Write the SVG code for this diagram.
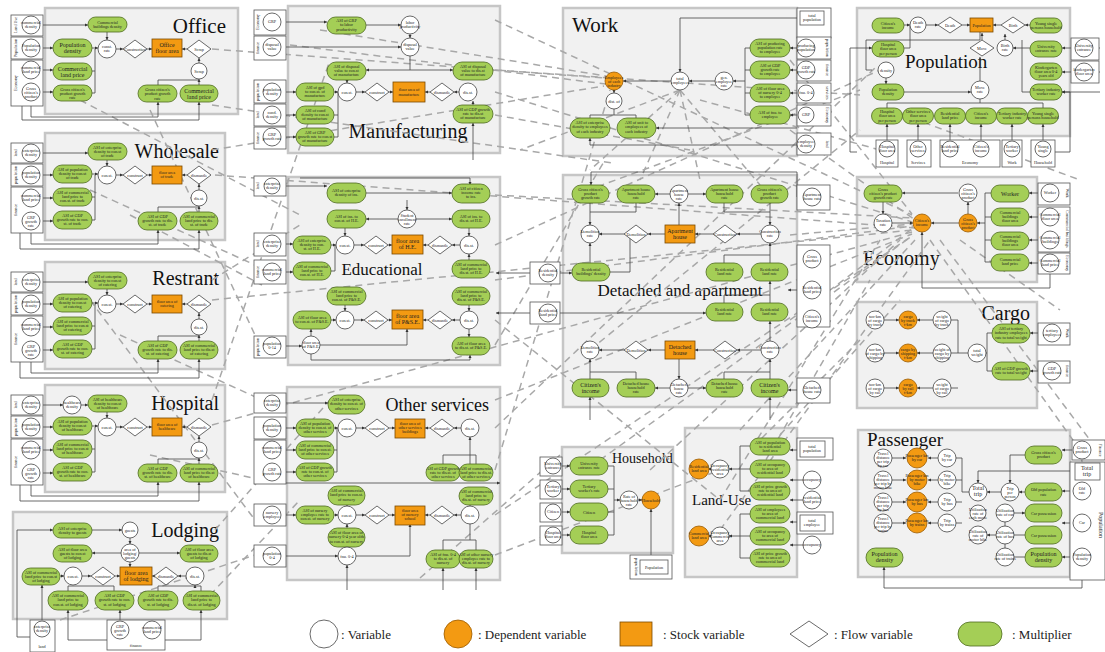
<svg xmlns="http://www.w3.org/2000/svg" width="1105" height="652" viewBox="0 0 1105 652">
<defs>
<marker id="a" viewBox="0 0 6 6" refX="6" refY="3" markerWidth="4" markerHeight="4" orient="auto"><path d="M0 0L6 3L0 6z" fill="#333"/></marker>
<style>
.pn{fill:#f1f1f1;stroke:#c6c6c6;stroke-width:2.5}
.v{fill:#fff;stroke:#444;stroke-width:0.8}
.d{fill:#f39a12;stroke:#9a5a00;stroke-width:0.8}
.s{fill:#f39a12;stroke:#7a4a00;stroke-width:0.8}
.f{fill:#fff;stroke:#444;stroke-width:0.8}
.m{fill:#a4ce56;stroke:#4e6b1f;stroke-width:0.8}
.x{fill:#fff;stroke:#555;stroke-width:0.8}
.t{font-family:"Liberation Serif",serif;font-size:4.2px;text-anchor:middle;fill:#222}
.t6{font-family:"Liberation Serif",serif;font-size:6px;text-anchor:middle;fill:#222}
.ttl{font-family:"Liberation Serif",serif;fill:#111}
.lg{font-family:"Liberation Serif",serif;font-size:13px;fill:#222}
.c{fill:none;stroke:#444;stroke-width:0.8;marker-end:url(#a)}
.l{fill:none;stroke:#444;stroke-width:0.8}
.dl{fill:none;stroke:#a8a8a8;stroke-width:1.5;stroke-dasharray:7 5}
</style>
</defs>
<rect width="1105" height="652" fill="#fff"/>

<!-- ========== PANELS ========== -->
<g id="panels">
<rect class="pn" x="45" y="8" width="193" height="106"/>
<rect class="pn" x="288" y="6" width="212" height="147"/>
<rect class="pn" x="563" y="8" width="234" height="148"/>
<rect class="pn" x="857" y="8" width="213" height="128"/>
<rect class="pn" x="45" y="133" width="180" height="107"/>
<rect class="pn" x="45" y="262" width="180" height="107"/>
<rect class="pn" x="288" y="177" width="212" height="188"/>
<rect class="pn" x="563" y="175" width="234" height="232"/>
<rect class="pn" x="857" y="177" width="180" height="105"/>
<rect class="pn" x="857" y="302" width="180" height="106"/>
<rect class="pn" x="45" y="385" width="180" height="107"/>
<rect class="pn" x="13" y="512" width="214" height="107"/>
<rect class="pn" x="287" y="387" width="213" height="193"/>
<rect class="pn" x="562" y="447" width="111" height="106"/>
<rect class="pn" x="685" y="428" width="112" height="149"/>
<rect class="pn" x="858" y="430" width="212" height="147"/>
<text class="ttl" x="226" y="33" font-size="21" text-anchor="end">Office</text>
<text class="ttl" x="408" y="138" font-size="20" text-anchor="middle">Manufacturing</text>
<text class="ttl" x="572" y="32" font-size="21">Work</text>
<text class="ttl" x="905" y="68" font-size="19">Population</text>
<text class="ttl" x="219" y="158" font-size="20" text-anchor="end">Wholesale</text>
<text class="ttl" x="219" y="285" font-size="20" text-anchor="end">Restrant</text>
<text class="ttl" x="382" y="275" font-size="17" text-anchor="middle">Educational</text>
<text class="ttl" x="680" y="296" font-size="17" text-anchor="middle">Detached and apartment</text>
<text class="ttl" x="863" y="265" font-size="20">Economy</text>
<text class="ttl" x="1030" y="320" font-size="20" text-anchor="end">Cargo</text>
<text class="ttl" x="219" y="410" font-size="20" text-anchor="end">Hospital</text>
<text class="ttl" x="219" y="537" font-size="20" text-anchor="end">Lodging</text>
<text class="ttl" x="489" y="411" font-size="18" text-anchor="end">Other services</text>
<text class="ttl" x="612" y="463" font-size="14">Household</text>
<text class="ttl" x="692" y="505" font-size="15">Land-Use</text>
<text class="ttl" x="867" y="446" font-size="19">Passenger</text>
</g>

<!-- ========== CONNECTORS ========== -->
<g id="connectors">
<path class="dl" d="M212 49L604 78"/>
<path class="dl" d="M80 100L300 215"/>
<path class="dl" d="M150 110L262 350"/>
<path class="dl" d="M290 45L606 84"/>
<path class="dl" d="M495 70L860 95"/>
<path class="dl" d="M495 92L912 222"/>
<path class="dl" d="M495 115L690 150"/>
<path class="dl" d="M495 20L912 215"/>
<path class="dl" d="M320 30L606 76"/>
<path class="dl" d="M212 150L604 86"/>
<path class="dl" d="M215 175L915 228"/>
<path class="dl" d="M130 215L262 285"/>
<path class="dl" d="M90 190L255 265"/>
<path class="dl" d="M212 280L300 225"/>
<path class="dl" d="M212 300L913 230"/>
<path class="dl" d="M120 335L262 400"/>
<path class="dl" d="M90 300L255 520"/>
<path class="dl" d="M212 400L330 60"/>
<path class="dl" d="M212 425L912 232"/>
<path class="dl" d="M150 455L262 480"/>
<path class="dl" d="M215 530L330 400"/>
<path class="dl" d="M60 620L270 550"/>
<path class="dl" d="M210 595L300 500"/>
<path class="dl" d="M495 195L913 218"/>
<path class="dl" d="M495 245L880 70"/>
<path class="dl" d="M495 280L913 226"/>
<path class="dl" d="M495 320L720 500"/>
<path class="dl" d="M495 345L605 160"/>
<path class="dl" d="M495 400L912 234"/>
<path class="dl" d="M495 428L875 68"/>
<path class="dl" d="M495 470L610 90"/>
<path class="dl" d="M495 515L912 236"/>
<path class="dl" d="M495 555L720 470"/>
<path class="dl" d="M420 578L560 455"/>
<path class="dl" d="M680 90L590 170"/>
<path class="dl" d="M680 90L640 180"/>
<path class="dl" d="M680 90L700 180"/>
<path class="dl" d="M680 90L760 185"/>
<path class="dl" d="M680 90L520 150"/>
<path class="dl" d="M700 100L880 150"/>
<path class="dl" d="M790 60L912 214"/>
<path class="dl" d="M790 130L915 220"/>
<path class="dl" d="M575 195L860 90"/>
<path class="dl" d="M790 235L912 224"/>
<path class="dl" d="M790 320L913 228"/>
<path class="dl" d="M590 350L860 130"/>
<path class="dl" d="M600 460L912 236"/>
<path class="dl" d="M650 470L900 240"/>
<path class="dl" d="M740 430L915 240"/>
<path class="dl" d="M720 500L880 240"/>
<path class="dl" d="M720 530L930 240"/>
<path class="dl" d="M760 470L870 280"/>
<path class="dl" d="M780 435L900 300"/>
<path class="dl" d="M860 340L760 440"/>
<path class="dl" d="M890 110L1080 180"/>
<path class="dl" d="M930 240L1080 450"/>
<path class="dl" d="M940 240L1090 440"/>
<path class="dl" d="M960 240L1060 310"/>
<path class="dl" d="M1080 455L1095 500"/>
<path class="dl" d="M212 105L612 163"/>

<!-- Office -->
<path class="c" d="M40 25H88"/><path class="c" d="M40 48H53"/><path class="c" d="M40 70H53"/><path class="c" d="M40 92H53"/>
<path class="c" d="M92 48H98"/><path class="l" d="M92 71H95V49M92 93H95V71"/><path class="c" d="M107 32V40"/>
<path class="c" d="M116 49H123"/><path class="c" d="M147 49H152"/><path class="c" d="M187 49H182"/><path class="c" d="M199 63V58"/>
<path class="c" d="M158 85V80H199V79"/><path class="l" d="M199 85V80"/>
<path class="c" d="M31 101V117H158V102"/><path class="c" d="M22 76V120H199V102"/>
<!-- Manufacturing -->
<path class="c" d="M286 22H327"/><path class="c" d="M366 25H401"/><path class="c" d="M286 47H401"/><path class="c" d="M410 34V38"/>
<path class="c" d="M410 56V70H366"/><path class="c" d="M410 70H453"/>
<path class="c" d="M334 92H338"/><path class="c" d="M356 92H365"/><path class="c" d="M389 92H393"/><path class="c" d="M430 92H425"/><path class="c" d="M459 92H454"/>
<path class="c" d="M347 80V83"/><path class="c" d="M473 105V101"/><path class="l" d="M334 115H338V92M334 137H338V115"/>
<path class="c" d="M286 92H296"/><path class="c" d="M286 115H296"/><path class="c" d="M286 137H296"/>
<path class="c" d="M473 160V123"/>
<!-- Work -->
<path class="c" d="M671 81H623"/><path class="c" d="M715 81H689"/><path class="c" d="M745 81H733"/>
<path class="l" d="M750 48H745V115H750M745 70H750M745 93H750"/>
<path class="c" d="M800 18H680V72"/><path class="c" d="M614 90V93"/>
<path class="l" d="M614 109V115H590V118M614 115H636V118"/>
<path class="c" d="M797 128H656"/><path class="c" d="M797 145H590V138"/>
<path class="c" d="M806 48H790"/><path class="c" d="M806 70H790"/><path class="c" d="M806 93H790"/><path class="c" d="M806 115H790"/>
<!-- Population -->
<path class="c" d="M904 25H910"/><path class="c" d="M926 25H938"/><path class="c" d="M962 25H970"/><path class="c" d="M1001 25H993"/>
<path class="c" d="M1030 25H1025"/><path class="c" d="M1005 40V34"/><path class="c" d="M1030 48H1013"/>
<path class="l" d="M904 48H910V26"/><path class="c" d="M982 40V33"/><path class="c" d="M980 81V57"/>
<path class="c" d="M904 92H971"/><path class="c" d="M886 78V84"/><path class="l" d="M872 70H866V40H980V18"/>
<path class="l" d="M1030 92H1022V40"/><path class="l" d="M887 108V103H1043V108M980 103V99"/>
<path class="c" d="M1100 48H1062"/><path class="c" d="M1100 72H1062"/><path class="c" d="M1100 92H1062"/>
<path class="c" d="M887 140V124"/><path class="c" d="M918 140V124"/><path class="c" d="M950 140V124"/><path class="c" d="M981 140V124"/><path class="c" d="M1012 140V124"/><path class="c" d="M1043 140V124"/>
<path class="c" d="M857 152H850V48H872"/><path class="c" d="M1055 152H1070V92H1062"/>
<!-- Wholesale/Restrant/Hospital -->
<g id="c-ind-w"><path class="c" d="M40 153H88"/><path class="c" d="M40 175H53"/><path class="c" d="M40 198H53"/><path class="c" d="M40 221H53"/>
<path class="c" d="M92 174H98"/><path class="l" d="M92 197H95V175M92 220H95V197"/><path class="c" d="M107 160V166"/>
<path class="c" d="M116 175H123"/><path class="c" d="M147 175H152"/><path class="c" d="M187 175H182"/><path class="c" d="M199 190V184"/>
<path class="c" d="M158 212V207H199V206"/><path class="l" d="M199 212V207"/>
<path class="c" d="M31 230V244H158V230"/><path class="c" d="M20 200V249H199V230"/></g>
<g transform="translate(0,129)"><path class="c" d="M40 153H88"/><path class="c" d="M40 175H53"/><path class="c" d="M40 198H53"/><path class="c" d="M40 221H53"/>
<path class="c" d="M92 174H98"/><path class="l" d="M92 197H95V175M92 220H95V197"/><path class="c" d="M107 160V166"/>
<path class="c" d="M116 175H123"/><path class="c" d="M147 175H152"/><path class="c" d="M187 175H182"/><path class="c" d="M199 190V184"/>
<path class="c" d="M158 212V207H199V206"/><path class="l" d="M199 212V207"/>
<path class="c" d="M31 230V244H158V230"/><path class="c" d="M20 200V249H199V230"/></g>
<g transform="translate(0,252)"><path class="c" d="M40 153H63"/><path class="c" d="M81 153H88"/><path class="c" d="M40 175H53"/><path class="c" d="M40 198H53"/><path class="c" d="M40 221H53"/>
<path class="c" d="M92 174H98"/><path class="l" d="M92 197H95V175M92 220H95V197"/><path class="c" d="M107 160V166"/>
<path class="c" d="M116 175H123"/><path class="c" d="M147 175H152"/><path class="c" d="M187 175H182"/><path class="c" d="M199 190V184"/>
<path class="c" d="M158 212V207H199V206"/><path class="l" d="M199 212V207"/>
<path class="c" d="M31 230V244H158V230"/><path class="c" d="M20 200V249H199V230"/></g>
<!-- Lodging -->
<path class="c" d="M92 530H122"/><path class="c" d="M130 538V544"/><path class="c" d="M121 553H92"/><path class="c" d="M139 553H180"/><path class="c" d="M130 562V567"/>
<path class="c" d="M60 576H64"/><path class="c" d="M82 576H91"/><path class="c" d="M115 576H120"/><path class="c" d="M166 576H152"/><path class="c" d="M186 576H178"/>
<path class="l" d="M68 591V586H80M114 591V586H80"/><path class="l" d="M158 591V586H201V591"/><path class="c" d="M195 586V585"/>
<path class="c" d="M33 637H17V530H53"/><path class="c" d="M42 620V585"/><path class="c" d="M114 640H68V610"/><path class="c" d="M160 640H201V610"/><path class="c" d="M120 621V610"/>
<!-- Educational -->
<path class="c" d="M286 186H327"/><path class="c" d="M366 193H452"/><path class="c" d="M407 200V210"/><path class="c" d="M398 219H366"/><path class="c" d="M416 219H452"/>
<path class="c" d="M300 178H470V185"/>
<path class="c" d="M345 228V236"/><path class="c" d="M469 228V236"/>
<path class="c" d="M331 245H336"/><path class="c" d="M354 245H364"/><path class="c" d="M388 245H392"/><path class="c" d="M428 245H423"/><path class="c" d="M460 245H452"/>
<path class="l" d="M331 271H335V245"/><path class="c" d="M469 260V254"/><path class="c" d="M286 244H293"/><path class="c" d="M286 272H293"/>
<path class="c" d="M345 305V311"/><path class="c" d="M469 305V311"/>
<path class="c" d="M331 320H336"/><path class="c" d="M354 320H364"/><path class="c" d="M388 320H392"/><path class="c" d="M428 320H423"/><path class="c" d="M460 320H452"/>
<path class="c" d="M469 329V337"/><path class="c" d="M311 336V329"/><path class="c" d="M320 345H407V329"/><path class="c" d="M286 346H302"/><path class="c" d="M311 354V360H470V355"/>
<path class="c" d="M560 273H496"/><path class="c" d="M560 313H496"/>
<!-- Other services -->
<path class="c" d="M286 403H328"/><path class="c" d="M286 428H296"/><path class="c" d="M286 450H296"/><path class="c" d="M286 472H296"/>
<path class="c" d="M334 428H338"/><path class="l" d="M334 450H337V428M334 472H337V450"/><path class="c" d="M356 428H365"/><path class="c" d="M389 428H395"/><path class="c" d="M430 428H425"/><path class="c" d="M461 428H454"/>
<path class="c" d="M470 464V437"/><path class="l" d="M443 464V455H476V464"/>
<path class="c" d="M286 483H500"/>
<path class="c" d="M286 515H296"/><path class="c" d="M334 515H338"/><path class="c" d="M356 515H365"/><path class="c" d="M389 515H395"/><path class="c" d="M430 515H425"/><path class="c" d="M461 515H454"/>
<path class="c" d="M347 505V506"/><path class="c" d="M470 505V524"/><path class="c" d="M347 528V524"/><path class="c" d="M286 556H338"/><path class="c" d="M356 556H410V524"/>
<path class="c" d="M347 590V565"/><path class="c" d="M443 590V568"/><path class="c" d="M476 590V568"/><path class="l" d="M443 550V540H476V550M470 540V524"/>
<!-- Detached -->
<path class="c" d="M590 203V225"/><path class="l" d="M636 203V212H590"/><path class="c" d="M679 225V203"/><path class="c" d="M670 194H655"/><path class="c" d="M688 194H706"/>
<path class="c" d="M770 203V225"/><path class="l" d="M724 203V212H770"/>
<path class="c" d="M624 234H599"/><path class="c" d="M665 234H648"/><path class="c" d="M713 234H695"/><path class="c" d="M761 234H737"/>
<path class="c" d="M590 263V243"/><path class="c" d="M770 263V243"/><path class="c" d="M770 303V281"/><path class="l" d="M724 263V255H770M724 303V295H770"/>
<path class="c" d="M610 272H630V230"/>
<path class="c" d="M560 273H572"/><path class="c" d="M560 313H706"/>
<path class="c" d="M770 341V321"/>
<path class="c" d="M624 350H599"/><path class="c" d="M665 350H648"/><path class="c" d="M713 350H695"/><path class="c" d="M761 350H737"/>
<path class="c" d="M590 379V359"/><path class="c" d="M770 379V359"/><path class="l" d="M636 379V372H590M724 379V372H770"/><path class="c" d="M679 359V379"/>
<path class="c" d="M670 388H655"/><path class="c" d="M688 388H706"/>
<path class="c" d="M806 197H797V172H591V185"/><path class="c" d="M806 290H788"/><path class="c" d="M806 390H788"/>
<path class="c" d="M590 420V397"/><path class="c" d="M770 420V397"/>
<!-- Economy -->
<path class="c" d="M958 193H902"/><path class="c" d="M883 202V214"/><path class="c" d="M892 223H913"/><path class="c" d="M959 223H931"/><path class="c" d="M968 214V202"/>
<path class="l" d="M991 193H985V262H991M985 217H991M985 240H991"/><path class="c" d="M985 223H977"/>
<path class="c" d="M1041 193H1029"/><path class="c" d="M1041 217H1029"/><path class="c" d="M1041 240H1029"/><path class="c" d="M1041 263H1029"/>
<path class="c" d="M1050 272V288H922V232"/>
<!-- Cargo -->
<path class="c" d="M884 320H899"/><path class="c" d="M935 320H917"/><path class="c" d="M884 353H899"/><path class="c" d="M935 353H917"/><path class="c" d="M884 388H899"/><path class="c" d="M935 388H917"/>
<path class="l" d="M968 353H958V320H951M958 388H951M958 353H951"/>
<path class="l" d="M992 333H987V371H992M987 353H986"/>
<path class="c" d="M1042 333H1030"/><path class="c" d="M1042 371H1030"/>
<!-- Passenger -->
<path class="c" d="M891 458H906"/><path class="c" d="M938 458H928"/><path class="c" d="M891 480H906"/><path class="c" d="M938 480H928"/><path class="c" d="M891 502H906"/><path class="c" d="M938 502H928"/><path class="c" d="M891 523H906"/><path class="c" d="M938 523H928"/>
<path class="l" d="M969 492H962V458H956M962 480H956M962 502H956M962 523H956"/><path class="c" d="M1001 492H987"/>
<path class="c" d="M1025 492H1019"/><path class="c" d="M1025 455H1010V483"/><path class="c" d="M1082 471H978V483"/>
<path class="c" d="M996 513H1025"/><path class="l" d="M1005 521V557H1025M1005 535H1025"/><path class="c" d="M996 535H987"/>
<path class="c" d="M1075 450H1062"/><path class="c" d="M1073 491H1062"/><path class="c" d="M1073 523H1062"/><path class="c" d="M1073 557H1062"/>
<path class="c" d="M1082 565V588H884V567"/>
<!-- Household -->
<path class="c" d="M562 466H570"/><path class="c" d="M562 489H570"/><path class="c" d="M562 512H570"/><path class="c" d="M562 535H570"/>
<path class="l" d="M608 466H614V535H608M608 489H614M608 512H614"/><path class="c" d="M614 500H620"/><path class="c" d="M638 500H642"/>
<path class="c" d="M651 565V509"/>
<!-- Land-use -->
<path class="c" d="M711 469H708"/><path class="c" d="M711 536H708"/>
<path class="l" d="M750 446H740V491H750M740 469H750"/><path class="c" d="M740 469H729"/>
<path class="l" d="M750 514H740V558H750M740 536H750"/><path class="c" d="M740 536H729"/>
<path class="c" d="M800 450H790"/><path class="c" d="M803 480H790"/><path class="c" d="M803 500H790"/><path class="c" d="M800 522H790"/><path class="c" d="M803 545H790"/>
</g>

<!-- ========== EXTERNAL BOXES ========== -->
<g id="externals">
<rect class="x" x="11" y="15" width="32" height="21"/><rect class="x" x="11" y="37" width="32" height="22"/><rect class="x" x="11" y="60" width="32" height="46"/>
<text class="t" transform="translate(17,25) rotate(-90)">Land Use</text><text class="t" transform="translate(17,48) rotate(-90)">Population</text><text class="t" transform="translate(17,83) rotate(-90)">Economy</text>
<circle class="v" cx="31" cy="25" r="9"/><text class="t" x="31" y="24">commercial<tspan x="31" dy="4">density</tspan></text>
<circle class="v" cx="31" cy="48" r="9"/><text class="t" x="31" y="47">Population<tspan x="31" dy="4">density</tspan></text>
<circle class="v" cx="31" cy="70" r="9"/><text class="t" x="31" y="69">commercial<tspan x="31" dy="4">land price</tspan></text>
<circle class="v" cx="31" cy="92" r="9"/><text class="t" x="31" y="90">Gross<tspan x="31" dy="4">citizen's</tspan><tspan x="31" dy="4">product</tspan></text>

<g id="ext-w"><rect class="x" x="11" y="143" width="32" height="20"/><rect class="x" x="11" y="164" width="32" height="22"/><rect class="x" x="11" y="187" width="32" height="46"/>
<text class="t" transform="translate(17,153) rotate(-90)">land</text><text class="t" transform="translate(17,175) rotate(-90)">population</text><text class="t" transform="translate(17,210) rotate(-90)">finance</text>
<circle class="v" cx="31" cy="153" r="9"/><text class="t" x="31" y="152">enterprise<tspan x="31" dy="4">density</tspan></text>
<circle class="v" cx="31" cy="175" r="9"/><text class="t" x="31" y="174">population<tspan x="31" dy="4">density</tspan></text>
<circle class="v" cx="31" cy="198" r="9"/><text class="t" x="31" y="197">commercial<tspan x="31" dy="4">land price</tspan></text>
<circle class="v" cx="31" cy="221" r="9"/><text class="t" x="31" y="219">GRP<tspan x="31" dy="4">growth</tspan><tspan x="31" dy="4">rate</tspan></text></g>
<g transform="translate(0,129)"><rect class="x" x="11" y="143" width="32" height="20"/><rect class="x" x="11" y="164" width="32" height="22"/><rect class="x" x="11" y="187" width="32" height="46"/>
<text class="t" transform="translate(17,153) rotate(-90)">land</text><text class="t" transform="translate(17,175) rotate(-90)">population</text><text class="t" transform="translate(17,210) rotate(-90)">finance</text>
<circle class="v" cx="31" cy="153" r="9"/><text class="t" x="31" y="152">enterprise<tspan x="31" dy="4">density</tspan></text>
<circle class="v" cx="31" cy="175" r="9"/><text class="t" x="31" y="174">population<tspan x="31" dy="4">density</tspan></text>
<circle class="v" cx="31" cy="198" r="9"/><text class="t" x="31" y="197">commercial<tspan x="31" dy="4">land price</tspan></text>
<circle class="v" cx="31" cy="221" r="9"/><text class="t" x="31" y="219">GRP<tspan x="31" dy="4">growth</tspan><tspan x="31" dy="4">rate</tspan></text></g>
<g transform="translate(0,252)"><rect class="x" x="11" y="143" width="32" height="20"/><rect class="x" x="11" y="164" width="32" height="22"/><rect class="x" x="11" y="187" width="32" height="46"/>
<text class="t" transform="translate(17,153) rotate(-90)">land</text><text class="t" transform="translate(17,175) rotate(-90)">population</text><text class="t" transform="translate(17,210) rotate(-90)">finance</text>
<circle class="v" cx="31" cy="153" r="9"/><text class="t" x="31" y="152">enterprise<tspan x="31" dy="4">density</tspan></text>
<circle class="v" cx="31" cy="175" r="9"/><text class="t" x="31" y="174">population<tspan x="31" dy="4">density</tspan></text>
<circle class="v" cx="31" cy="198" r="9"/><text class="t" x="31" y="197">commercial<tspan x="31" dy="4">land price</tspan></text>
<circle class="v" cx="31" cy="221" r="9"/><text class="t" x="31" y="219">GRP<tspan x="31" dy="4">growth</tspan><tspan x="31" dy="4">rate</tspan></text></g>

<rect class="x" x="30" y="620" width="25" height="32"/><text class="t" x="42" y="648">land</text>
<circle class="v" cx="42" cy="629" r="8"/><text class="t" x="42" y="628">enterprise<tspan x="42" dy="4">density</tspan></text>
<rect class="x" x="107" y="620" width="58" height="30"/><text class="t" x="136" y="647">finance</text>
<circle class="v" cx="120" cy="630" r="9"/><text class="t" x="120" y="628">GRP<tspan x="120" dy="4">growth</tspan><tspan x="120" dy="4">rate</tspan></text>
<circle class="v" cx="152" cy="630" r="9"/><text class="t" x="152" y="629">commercial<tspan x="152" dy="4">land price</tspan></text>

<rect class="x" x="254" y="10" width="32" height="25"/><rect class="x" x="254" y="36" width="32" height="24"/>
<rect class="x" x="254" y="80" width="32" height="23"/><rect class="x" x="254" y="104" width="32" height="22"/><rect class="x" x="254" y="127" width="32" height="22"/>
<circle class="v" cx="272" cy="22" r="9"/><text class="t" x="272" y="23">GRP</text>
<circle class="v" cx="272" cy="47" r="9"/><text class="t" x="272" y="46">disposal<tspan x="272" dy="4">value</tspan></text>
<circle class="v" cx="272" cy="92" r="9"/><text class="t" x="272" y="91">population<tspan x="272" dy="4">density</tspan></text>
<circle class="v" cx="272" cy="115" r="9"/><text class="t" x="272" y="114">cond.<tspan x="272" dy="4">density</tspan></text>
<circle class="v" cx="272" cy="137" r="9"/><text class="t" x="272" y="136">GRP<tspan x="272" dy="4">growth rate</tspan></text>
<text class="t" transform="translate(259,22) rotate(-90)">Economy</text><text class="t" transform="translate(259,48) rotate(-90)">finance</text>
<text class="t" transform="translate(259,92) rotate(-90)">population</text><text class="t" transform="translate(259,115) rotate(-90)">land</text><text class="t" transform="translate(259,138) rotate(-90)">finance</text>

<rect class="x" x="254" y="176" width="32" height="20"/><circle class="v" cx="272" cy="186" r="8"/><text class="t" x="272" y="185">enterprise<tspan x="272" dy="4">density</tspan></text>
<rect class="x" x="254" y="233" width="32" height="23"/><circle class="v" cx="272" cy="244" r="9"/><text class="t" x="272" y="243">enterprise<tspan x="272" dy="4">density</tspan></text>
<rect class="x" x="254" y="260" width="32" height="24"/><circle class="v" cx="272" cy="272" r="9"/><text class="t" x="272" y="271">commercial<tspan x="272" dy="4">land price</tspan></text>
<rect class="x" x="254" y="336" width="32" height="22"/><circle class="v" cx="272" cy="346" r="9"/><text class="t" x="272" y="345">population<tspan x="272" dy="4">0-14</tspan></text>
<text class="t" transform="translate(259,186) rotate(-90)">land</text><text class="t" transform="translate(259,244) rotate(-90)">land</text><text class="t" transform="translate(259,272) rotate(-90)">finance</text><text class="t" transform="translate(259,347) rotate(-90)">population</text>

<rect class="x" x="254" y="393" width="32" height="20"/><circle class="v" cx="272" cy="403" r="8"/><text class="t" x="272" y="402">enterprise<tspan x="272" dy="4">density</tspan></text>
<rect class="x" x="254" y="417" width="32" height="22"/><circle class="v" cx="272" cy="428" r="9"/><text class="t" x="272" y="427">population<tspan x="272" dy="4">density</tspan></text>
<rect class="x" x="254" y="440" width="32" height="44"/><circle class="v" cx="272" cy="450" r="9"/><text class="t" x="272" y="449">commercial<tspan x="272" dy="4">land price</tspan></text>
<circle class="v" cx="272" cy="472" r="9"/><text class="t" x="272" y="471">GRP<tspan x="272" dy="4">growth rate</tspan></text>
<rect class="x" x="254" y="504" width="32" height="22"/><circle class="v" cx="272" cy="515" r="9"/><text class="t" x="272" y="514">nursery<tspan x="272" dy="4">employee</tspan></text>
<rect class="x" x="254" y="545" width="32" height="22"/><circle class="v" cx="272" cy="556" r="9"/><text class="t" x="272" y="555">population<tspan x="272" dy="4">0-4</tspan></text>

<rect class="x" x="797" y="8" width="34" height="30"/><rect class="x" x="800" y="11" width="24" height="14"/><text class="t" x="812" y="17">total<tspan x="812" dy="4">population</tspan></text>
<rect class="x" x="797" y="37" width="34" height="22"/><circle class="v" cx="806" cy="48" r="9"/><text class="t" x="806" y="47">producing<tspan x="806" dy="4">population</tspan></text>
<rect class="x" x="797" y="60" width="34" height="21"/><circle class="v" cx="806" cy="70" r="9"/><text class="t" x="806" y="69">GDP<tspan x="806" dy="4">growth rate</tspan></text>
<rect class="x" x="797" y="83" width="34" height="20"/><circle class="v" cx="806" cy="93" r="8"/><text class="t" x="806" y="94">fnu. 0-4</text>
<rect class="x" x="797" y="105" width="34" height="21"/><circle class="v" cx="806" cy="115" r="8"/><text class="t" x="806" y="116">GRP</text>
<rect class="x" x="797" y="133" width="34" height="22"/><circle class="v" cx="806" cy="144" r="9"/><text class="t" x="806" y="143">employee<tspan x="806" dy="4">density</tspan></text>
<text class="t" transform="translate(826,48) rotate(90)">population</text><text class="t" transform="translate(826,70) rotate(90)">finance</text><text class="t" transform="translate(826,93) rotate(90)">services</text><text class="t" transform="translate(826,115) rotate(90)">Economy</text><text class="t" transform="translate(826,144) rotate(90)">land</text>

<rect class="x" x="1071" y="38" width="28" height="22"/><circle class="v" cx="1084" cy="48" r="9"/><text class="t" x="1084" y="47">University<tspan x="1084" dy="4">entrance</tspan></text>
<rect class="x" x="1071" y="61" width="28" height="22"/><circle class="v" cx="1084" cy="72" r="9"/><text class="t" x="1084" y="71">kindergarten<tspan x="1084" dy="4">floor area</tspan></text>
<rect class="x" x="876" y="140" width="22" height="27"/><circle class="v" cx="887" cy="149" r="8"/><text class="t" x="887" y="148">Hospital<tspan x="887" dy="4">floor area</tspan></text><text class="t" x="887" y="164">Hospital</text>
<rect class="x" x="907" y="140" width="24" height="27"/><circle class="v" cx="918" cy="149" r="8"/><text class="t" x="918" y="148">Other<tspan x="918" dy="4">services</tspan></text><text class="t" x="918" y="164">Services</text>
<rect class="x" x="940" y="140" width="60" height="27"/><circle class="v" cx="950" cy="149" r="8"/><text class="t" x="950" y="148">Residential<tspan x="950" dy="4">land price</tspan></text>
<circle class="v" cx="981" cy="149" r="8"/><text class="t" x="981" y="148">Citizen's<tspan x="981" dy="4">income</tspan></text><text class="t" x="970" y="164">Economy</text>
<rect class="x" x="1002" y="140" width="20" height="27"/><circle class="v" cx="1012" cy="149" r="8"/><text class="t" x="1012" y="148">Tertiary<tspan x="1012" dy="4">worker</tspan></text><text class="t" x="1012" y="164">Work</text>
<rect class="x" x="1031" y="140" width="24" height="27"/><circle class="v" cx="1043" cy="149" r="8"/><text class="t" x="1043" y="148">Young<tspan x="1043" dy="4">single</tspan></text><text class="t" x="1043" y="164">Household</text>

<rect class="x" x="797" y="185" width="33" height="25"/><circle class="v" cx="812" cy="197" r="9"/><text class="t" x="812" y="196">Apartment<tspan x="812" dy="4">house rate</tspan></text>
<rect class="x" x="797" y="245" width="33" height="82"/><circle class="v" cx="812" cy="259" r="9"/><text class="t" x="812" y="258">Gross<tspan x="812" dy="4">product</tspan></text>
<circle class="v" cx="812" cy="290" r="9"/><text class="t" x="812" y="289">Residential<tspan x="812" dy="4">land price</tspan></text>
<circle class="v" cx="812" cy="319" r="9"/><text class="t" x="812" y="318">Citizen's<tspan x="812" dy="4">income</tspan></text>
<rect class="x" x="797" y="378" width="33" height="25"/><circle class="v" cx="812" cy="390" r="9"/><text class="t" x="812" y="389">Detached<tspan x="812" dy="4">house rate</tspan></text>
<rect class="x" x="530" y="262" width="30" height="22"/><circle class="v" cx="548" cy="273" r="9"/><text class="t" x="548" y="272">Residential<tspan x="548" dy="4">density</tspan></text>
<rect class="x" x="530" y="302" width="30" height="22"/><circle class="v" cx="548" cy="313" r="9"/><text class="t" x="548" y="312">Residential<tspan x="548" dy="4">land price</tspan></text>

<rect class="x" x="1038" y="183" width="32" height="22"/><circle class="v" cx="1050" cy="193" r="9"/><text class="t" x="1050" y="194">Worker</text>
<rect class="x" x="1038" y="207" width="32" height="45"/><circle class="v" cx="1050" cy="217" r="9"/><text class="t" x="1050" y="216">Commercial<tspan x="1050" dy="4">floor area</tspan></text>
<circle class="v" cx="1050" cy="240" r="9"/><text class="t" x="1050" y="239">Commercial<tspan x="1050" dy="4">buildings</tspan></text>
<rect class="x" x="1038" y="253" width="32" height="21"/><circle class="v" cx="1050" cy="263" r="9"/><text class="t" x="1050" y="262">Commercial<tspan x="1050" dy="4">land price</tspan></text>
<text class="t" transform="translate(1066,193) rotate(90)">Work</text><text class="t" transform="translate(1066,229) rotate(90)">Commercial buildings</text><text class="t" transform="translate(1066,263) rotate(90)">Economy</text>
<rect class="x" x="1038" y="323" width="32" height="22"/><circle class="v" cx="1052" cy="333" r="9"/><text class="t" x="1052" y="332">tertiary<tspan x="1052" dy="4">employees</tspan></text>
<rect class="x" x="1038" y="361" width="32" height="22"/><circle class="v" cx="1052" cy="371" r="9"/><text class="t" x="1052" y="370">GDP<tspan x="1052" dy="4">growth rate</tspan></text>
<text class="t" transform="translate(1066,333) rotate(90)">Work</text><text class="t" transform="translate(1066,371) rotate(90)">finance</text>

<rect class="x" x="1072" y="440" width="33" height="20"/><circle class="v" cx="1082" cy="450" r="9"/><text class="t" x="1082" y="449">Gross<tspan x="1082" dy="4">product</tspan></text><text class="t" transform="translate(1099,450) rotate(90)">Finance</text>
<rect class="x" x="1070" y="462" width="35" height="118"/><rect class="x" x="1075" y="463" width="25" height="17"/><text class="t6" x="1087" y="470">Total<tspan x="1087" dy="6">trip</tspan></text>
<circle class="v" cx="1082" cy="491" r="9"/><text class="t" x="1082" y="490">Old<tspan x="1082" dy="4">rate</tspan></text>
<circle class="v" cx="1082" cy="523" r="9"/><text class="t" x="1082" y="524">Car</text>
<circle class="v" cx="1082" cy="557" r="9"/><text class="t" x="1082" y="556">Population<tspan x="1082" dy="4">density</tspan></text>
<text class="t6" transform="translate(1099,525) rotate(90)">Population</text>

<rect class="x" x="540" y="457" width="22" height="19"/><circle class="v" cx="553" cy="466" r="8"/><text class="t" x="553" y="465">University<tspan x="553" dy="4">entrance</tspan></text>
<rect class="x" x="540" y="480" width="22" height="19"/><circle class="v" cx="553" cy="489" r="8"/><text class="t" x="553" y="488">Tertiary<tspan x="553" dy="4">worker</tspan></text>
<rect class="x" x="540" y="503" width="22" height="19"/><circle class="v" cx="553" cy="512" r="8"/><text class="t" x="553" y="513">Citizen</text>
<rect class="x" x="540" y="526" width="22" height="19"/><circle class="v" cx="553" cy="535" r="8"/><text class="t" x="553" y="534">Hospital<tspan x="553" dy="4">floor area</tspan></text>
<rect class="x" x="630" y="555" width="42" height="24"/><rect class="x" x="640" y="560" width="28" height="14"/><text class="t" x="654" y="569">Population</text><text class="t" transform="translate(635,567) rotate(90)">population</text>

<rect class="x" x="797" y="438" width="36" height="22"/><rect class="x" x="800" y="441" width="25" height="16"/><text class="t" x="812" y="448">total<tspan x="812" dy="4">population</tspan></text>
<circle class="v" cx="812" cy="480" r="9"/><text class="t" x="812" y="481">occupancy</text>
<circle class="v" cx="812" cy="500" r="9"/><text class="t" x="812" y="499">residential<tspan x="812" dy="4">land price</tspan></text>
<rect class="x" x="797" y="512" width="36" height="22"/><rect class="x" x="800" y="515" width="25" height="16"/><text class="t" x="812" y="522">total<tspan x="812" dy="4">employee</tspan></text>
<circle class="v" cx="812" cy="545" r="9"/><text class="t" x="812" y="546">occupancy</text>
</g>

<!-- ========== NODES ========== -->
<g id="of-cbd"><rect class="m" x="88" y="17" width="39" height="15" rx="7.5"/><text class="t" x="107.5" y="23.5">Commercial<tspan x="107.5" dy="4.3">buildings density</tspan></text></g>
<g id="of-pd"><rect class="m" x="53" y="39" width="39" height="18" rx="9"/><text class="t6" x="72.5" y="47">Population<tspan x="72.5" dy="6">density</tspan></text></g>
<g id="of-clp"><rect class="m" x="53" y="63" width="39" height="17" rx="8.5"/><text class="t6" x="72.5" y="70.5">Commercial<tspan x="72.5" dy="6">land price</tspan></text></g>
<g id="of-gcp"><rect class="m" x="53" y="85" width="39" height="16" rx="8"/><text class="t" x="72.5" y="90.5">Gross citizen's<tspan x="72.5" dy="4.3">product growth</tspan><tspan x="72.5" dy="4.3">rate</tspan></text></g>
<g id="of-cr"><circle class="v" cx="107" cy="49" r="9"/><text class="t" x="107" y="48">const.<tspan x="107" dy="4">rate</tspan></text></g>
<g id="of-con"><polygon class="f" points="123,49 135,40 147,49 135,58"/><text class="t" x="135" y="50.5">Construction</text></g>
<g id="of-ofa"><rect class="s" x="152" y="39" width="30" height="18"/><text class="t6" x="167" y="47">Office<tspan x="167" dy="6">floor area</tspan></text></g>
<g id="of-scd"><polygon class="f" points="187,49 199,40 211,49 199,58"/><text class="t" x="199" y="50.5">Scrap</text></g>
<g id="of-scr"><circle class="v" cx="199" cy="71" r="8"/><text class="t" x="199" y="72.5">Scrap</text></g>
<g id="of-gcp2"><rect class="m" x="138" y="85" width="39" height="17" rx="8.5"/><text class="t" x="157.5" y="91">Gross citizen's<tspan x="157.5" dy="4.3">product growth</tspan><tspan x="157.5" dy="4.3">rate</tspan></text></g>
<g id="of-clp2"><rect class="m" x="180" y="85" width="38" height="17" rx="8.5"/><text class="t6" x="199" y="92.5">Commercial<tspan x="199" dy="6">land price</tspan></text></g>

<g id="mf-1"><rect class="m" x="327" y="17" width="39" height="17" rx="8.5"/><text class="t" x="346.5" y="22">ASI of GRP<tspan x="346.5" dy="4.3">to labor</tspan><tspan x="346.5" dy="4.3">productivity</tspan></text></g>
<g id="mf-lp"><circle class="v" cx="410" cy="25" r="9"/><text class="t" x="410" y="24">labor<tspan x="410" dy="4">productivity</tspan></text></g>
<g id="mf-dv"><circle class="v" cx="410" cy="47" r="9"/><text class="t" x="410" y="46">disposal<tspan x="410" dy="4">value</tspan></text></g>
<g id="mf-2"><rect class="m" x="327" y="62" width="39" height="18" rx="9"/><text class="t" x="346.5" y="67.5">ASI of disposal<tspan x="346.5" dy="4.3">value to con.st</tspan><tspan x="346.5" dy="4.3">of manufacture</tspan></text></g>
<g id="mf-3"><rect class="m" x="453" y="62" width="40" height="18" rx="9"/><text class="t" x="473" y="67.5">ASI of disposal<tspan x="473" dy="4.3">value to dis.st</tspan><tspan x="473" dy="4.3">of manufacture</tspan></text></g>
<g id="mf-cs"><circle class="v" cx="347" cy="92" r="9"/><text class="t" x="347" y="93.5">con.st.</text></g>
<g id="mf-cd"><polygon class="f" points="365,92 377,83 389,92 377,101"/><text class="t" x="377" y="93.5">construct</text></g>
<g id="mf-s"><rect class="s" x="393" y="82" width="32" height="20"/><text class="t" x="409" y="91">floor area of<tspan x="409" dy="4.5">manufacture</tspan></text></g>
<g id="mf-dd"><polygon class="f" points="430,92 442,83 454,92 442,101"/><text class="t" x="442" y="93.5">dismantle</text></g>
<g id="mf-ds"><circle class="v" cx="468" cy="92" r="9"/><text class="t" x="468" y="93.5">dis.st.</text></g>
<g id="mf-4"><rect class="m" x="453" y="105" width="40" height="18" rx="9"/><text class="t" x="473" y="110.5">ASI of GDP growth<tspan x="473" dy="4.3">rate to dis.st</tspan><tspan x="473" dy="4.3">of manufacture</tspan></text></g>
<g id="mf-5"><rect class="m" x="296" y="83" width="38" height="18" rx="9"/><text class="t" x="315" y="88.5">ASI of gpd<tspan x="315" dy="4.3">to con.st. of</tspan><tspan x="315" dy="4.3">manufacture</tspan></text></g>
<g id="mf-6"><rect class="m" x="296" y="106" width="38" height="18" rx="9"/><text class="t" x="315" y="111.5">ASI of cond<tspan x="315" dy="4.3">density to con.st</tspan><tspan x="315" dy="4.3">of manufacture</tspan></text></g>
<g id="mf-7"><rect class="m" x="296" y="128" width="38" height="18" rx="9"/><text class="t" x="315" y="133.5">ASI of GRP<tspan x="315" dy="4.3">growth rate to con.st</tspan><tspan x="315" dy="4.3">of manufacture</tspan></text></g>

<g id="wk-emp"><circle class="d" cx="614" cy="81" r="9"/><text class="t" x="614" y="79">Employees<tspan x="614" dy="4">of each</tspan><tspan x="614" dy="4">industry</tspan></text></g>
<g id="wk-dist"><circle class="v" cx="614" cy="101" r="8"/><text class="t" x="614" y="102.5">dist. of</text></g>
<g id="wk-tot"><circle class="v" cx="680" cy="81" r="9"/><text class="t" x="680" y="80">total<tspan x="680" dy="4">employees</tspan></text></g>
<g id="wk-gen"><circle class="v" cx="724" cy="81" r="9"/><text class="t" x="724" y="79">gen.<tspan x="724" dy="4">employee</tspan><tspan x="724" dy="4">rate</tspan></text></g>
<g id="wk-1"><rect class="m" x="750" y="39" width="40" height="18" rx="9"/><text class="t" x="770" y="44.5">ASI of producing<tspan x="770" dy="4.3">population rate</tspan><tspan x="770" dy="4.3">to employee</tspan></text></g>
<g id="wk-2"><rect class="m" x="750" y="61" width="40" height="18" rx="9"/><text class="t" x="770" y="66.5">ASI of GDP<tspan x="770" dy="4.3">growth rate</tspan><tspan x="770" dy="4.3">to employee</tspan></text></g>
<g id="wk-3"><rect class="m" x="750" y="84" width="40" height="18" rx="9"/><text class="t" x="770" y="89.5">ASI of floor area<tspan x="770" dy="4.3">of nursery 0-4</tspan><tspan x="770" dy="4.3">to employee</tspan></text></g>
<g id="wk-4"><rect class="m" x="750" y="106" width="40" height="18" rx="9"/><text class="t" x="770" y="113.5">ASI of fnu. to<tspan x="770" dy="4.3">employee</tspan></text></g>
<g id="wk-5"><rect class="m" x="570" y="118" width="40" height="20" rx="10"/><text class="t" x="590" y="124">ASI of enterprise<tspan x="590" dy="4.3">density to employees</tspan><tspan x="590" dy="4.3">of each industry</tspan></text></g>
<g id="wk-6"><rect class="m" x="617" y="118" width="39" height="20" rx="10"/><text class="t" x="636.5" y="124">ASI of unit to<tspan x="636.5" dy="4.3">employees of</tspan><tspan x="636.5" dy="4.3">each industry</tspan></text></g>

<g id="po-ci"><rect class="m" x="872" y="18" width="32" height="15" rx="7.5"/><text class="t" x="888" y="24.5">Citizen's<tspan x="888" dy="4.3">income</tspan></text></g>
<g id="po-hf"><rect class="m" x="872" y="41" width="32" height="16" rx="8"/><text class="t" x="888" y="46">Hospital<tspan x="888" dy="4.3">floor area</tspan><tspan x="888" dy="4.3">per person</tspan></text></g>
<g id="po-dr"><circle class="v" cx="918" cy="25" r="8"/><text class="t" x="918" y="24">Death<tspan x="918" dy="4">rate</tspan></text></g>
<g id="po-dd"><polygon class="f" points="938,25 950,17 962,25 950,33"/><text class="t" x="950" y="26.5">Death</text></g>
<g id="po-pop"><rect class="s" x="970" y="18" width="23" height="14"/><text class="t" x="981.5" y="26.5">Population</text></g>
<g id="po-bd"><polygon class="f" points="1001,25 1013,17 1025,25 1013,33"/><text class="t" x="1013" y="26.5">Birth</text></g>
<g id="po-br"><circle class="v" cx="1005" cy="48" r="8"/><text class="t" x="1005" y="47">Birth<tspan x="1005" dy="4">rate</tspan></text></g>
<g id="po-md"><polygon class="f" points="970,48 982,40 994,48 982,56"/><text class="t" x="982" y="49.5">Move</text></g>
<g id="po-den"><circle class="v" cx="886" cy="70" r="8"/><text class="t" x="886" y="71.5">density</text></g>
<g id="po-pd"><rect class="m" x="872" y="84" width="32" height="16" rx="8"/><text class="t" x="888" y="90.5">Population<tspan x="888" dy="4.3">density</tspan></text></g>
<g id="po-mr"><circle class="v" cx="980" cy="90" r="9"/><text class="t" x="980" y="89">Move<tspan x="980" dy="4">rate</tspan></text></g>
<g id="po-r1"><rect class="m" x="1030" y="18" width="32" height="15" rx="7.5"/><text class="t" x="1046" y="24.5">Young single<tspan x="1046" dy="4.3">persons household</tspan></text></g>
<g id="po-r2"><rect class="m" x="1030" y="41" width="32" height="16" rx="8"/><text class="t" x="1046" y="47.5">University<tspan x="1046" dy="4.3">entrance rate</tspan></text></g>
<g id="po-r3"><rect class="m" x="1030" y="63" width="32" height="17" rx="8.5"/><text class="t" x="1046" y="68.5">Kindergarten<tspan x="1046" dy="4.3">floor area 0-4</tspan><tspan x="1046" dy="4.3">years old</tspan></text></g>
<g id="po-r4"><rect class="m" x="1030" y="84" width="32" height="16" rx="8"/><text class="t" x="1046" y="90.5">Tertiary industry<tspan x="1046" dy="4.3">worker rate</tspan></text></g>
<g id="po-b1"><rect class="m" x="871.5" y="108" width="31" height="16" rx="8"/><text class="t" x="887" y="113">Hospital<tspan x="887" dy="4.3">floor area</tspan><tspan x="887" dy="4.3">per person</tspan></text></g>
<g id="po-b2"><rect class="m" x="902.5" y="108" width="31" height="16" rx="8"/><text class="t" x="918" y="113">Other services<tspan x="918" dy="4.3">floor area</tspan><tspan x="918" dy="4.3">per person</tspan></text></g>
<g id="po-b3"><rect class="m" x="934.5" y="108" width="31" height="16" rx="8"/><text class="t" x="950" y="115">Residential<tspan x="950" dy="4.3">land price</tspan></text></g>
<g id="po-b4"><rect class="m" x="965.5" y="108" width="31" height="16" rx="8"/><text class="t" x="981" y="115">Citizen's<tspan x="981" dy="4.3">income</tspan></text></g>
<g id="po-b5"><rect class="m" x="996.5" y="108" width="31" height="16" rx="8"/><text class="t" x="1012" y="115">Tertiary industry<tspan x="1012" dy="4.3">worker rate</tspan></text></g>
<g id="po-b6"><rect class="m" x="1027.5" y="108" width="31" height="16" rx="8"/><text class="t" x="1043" y="115">Young single<tspan x="1043" dy="4.3">persons household</tspan></text></g>

<g id="ws-1"><rect class="m" x="88" y="143" width="39" height="17" rx="8.5"/><text class="t" x="107.5" y="148.5">ASI of enterprise<tspan x="107.5" dy="4.3">density to con.st</tspan><tspan x="107.5" dy="4.3">of trade</tspan></text></g>
<g id="ws-2"><rect class="m" x="53" y="165" width="39" height="18" rx="9"/><text class="t" x="72.5" y="170.5">ASI of population<tspan x="72.5" dy="4.3">density to con.st</tspan><tspan x="72.5" dy="4.3">of trade</tspan></text></g>
<g id="ws-3"><rect class="m" x="53" y="188" width="39" height="18" rx="9"/><text class="t" x="72.5" y="193.5">ASI of commercial<tspan x="72.5" dy="4.3">land price to</tspan><tspan x="72.5" dy="4.3">con.st. of trade</tspan></text></g>
<g id="ws-4"><rect class="m" x="53" y="211" width="39" height="18" rx="9"/><text class="t" x="72.5" y="216.5">ASI of GDP<tspan x="72.5" dy="4.3">growth rate to con.</tspan><tspan x="72.5" dy="4.3">st. of trade</tspan></text></g>
<g id="ws-cs"><circle class="v" cx="107" cy="175" r="9"/><text class="t" x="107" y="176.5">con.st.</text></g>
<g id="ws-cd"><polygon class="f" points="123,175 135,166 147,175 135,184"/><text class="t" x="135" y="176.5">construct</text></g>
<g id="ws-s"><rect class="s" x="152" y="166" width="30" height="18"/><text class="t" x="167" y="173.5">floor area<tspan x="167" dy="4.8">of trade</tspan></text></g>
<g id="ws-dd"><polygon class="f" points="187,175 199,166 211,175 199,184"/><text class="t" x="199" y="176.5">dismantle</text></g>
<g id="ws-ds"><circle class="v" cx="199" cy="198" r="8"/><text class="t" x="199" y="199.5">dis.st.</text></g>
<g id="ws-5"><rect class="m" x="138" y="212" width="39" height="18" rx="9"/><text class="t" x="157.5" y="217.5">ASI of GDP<tspan x="157.5" dy="4.3">growth rate to dis.</tspan><tspan x="157.5" dy="4.3">st. of trade</tspan></text></g>
<g id="ws-6"><rect class="m" x="180" y="212" width="38" height="18" rx="9"/><text class="t" x="199" y="217.5">ASI of commercial<tspan x="199" dy="4.3">land price to dis.</tspan><tspan x="199" dy="4.3">st. of trade</tspan></text></g>

<g transform="translate(0,129)">
<g id="rs-1"><rect class="m" x="88" y="143" width="39" height="17" rx="8.5"/><text class="t" x="107.5" y="148.5">ASI of enterprise<tspan x="107.5" dy="4.3">density to con.st</tspan><tspan x="107.5" dy="4.3">of catering</tspan></text></g>
<g id="rs-2"><rect class="m" x="53" y="165" width="39" height="18" rx="9"/><text class="t" x="72.5" y="170.5">ASI of population<tspan x="72.5" dy="4.3">density to con.st</tspan><tspan x="72.5" dy="4.3">of catering</tspan></text></g>
<g id="rs-3"><rect class="m" x="53" y="188" width="39" height="18" rx="9"/><text class="t" x="72.5" y="193.5">ASI of commercial<tspan x="72.5" dy="4.3">land price to con.st</tspan><tspan x="72.5" dy="4.3">of catering</tspan></text></g>
<g id="rs-4"><rect class="m" x="53" y="211" width="39" height="18" rx="9"/><text class="t" x="72.5" y="216.5">ASI of GDP<tspan x="72.5" dy="4.3">growth rate to con.</tspan><tspan x="72.5" dy="4.3">st. of catering</tspan></text></g>
<g id="rs-cs"><circle class="v" cx="107" cy="175" r="9"/><text class="t" x="107" y="176.5">con.st.</text></g>
<g id="rs-cd"><polygon class="f" points="123,175 135,166 147,175 135,184"/><text class="t" x="135" y="176.5">construct</text></g>
<g id="rs-s"><rect class="s" x="152" y="166" width="30" height="18"/><text class="t" x="167" y="173.5">floor area of<tspan x="167" dy="4.8">catering</tspan></text></g>
<g id="rs-dd"><polygon class="f" points="187,175 199,166 211,175 199,184"/><text class="t" x="199" y="176.5">dismantle</text></g>
<g id="rs-ds"><circle class="v" cx="199" cy="198" r="8"/><text class="t" x="199" y="199.5">dis.st.</text></g>
<g id="rs-5"><rect class="m" x="138" y="212" width="39" height="18" rx="9"/><text class="t" x="157.5" y="217.5">ASI of GDP<tspan x="157.5" dy="4.3">growth rate to dis.</tspan><tspan x="157.5" dy="4.3">st. of catering</tspan></text></g>
<g id="rs-6"><rect class="m" x="180" y="212" width="38" height="18" rx="9"/><text class="t" x="199" y="217.5">ASI of commercial<tspan x="199" dy="4.3">land price to dis.st</tspan><tspan x="199" dy="4.3">of catering</tspan></text></g>
</g>

<g transform="translate(0,252)">
<g id="hs-hd"><circle class="v" cx="72" cy="153" r="9"/><text class="t" x="72" y="152">healthcare<tspan x="72" dy="4">density</tspan></text></g>
<g id="hs-1"><rect class="m" x="88" y="143" width="39" height="17" rx="8.5"/><text class="t" x="107.5" y="148.5">ASI of healthcare<tspan x="107.5" dy="4.3">density to con.st</tspan><tspan x="107.5" dy="4.3">of healthcare</tspan></text></g>
<g id="hs-2"><rect class="m" x="53" y="165" width="39" height="18" rx="9"/><text class="t" x="72.5" y="170.5">ASI of population<tspan x="72.5" dy="4.3">density to con.st</tspan><tspan x="72.5" dy="4.3">of healthcare</tspan></text></g>
<g id="hs-3"><rect class="m" x="53" y="188" width="39" height="18" rx="9"/><text class="t" x="72.5" y="193.5">ASI of commercial<tspan x="72.5" dy="4.3">land price to con.st</tspan><tspan x="72.5" dy="4.3">of healthcare</tspan></text></g>
<g id="hs-4"><rect class="m" x="53" y="211" width="39" height="18" rx="9"/><text class="t" x="72.5" y="216.5">ASI of GDP<tspan x="72.5" dy="4.3">growth rate to con.</tspan><tspan x="72.5" dy="4.3">st. of healthcare</tspan></text></g>
<g id="hs-cs"><circle class="v" cx="107" cy="175" r="9"/><text class="t" x="107" y="176.5">con.st.</text></g>
<g id="hs-cd"><polygon class="f" points="123,175 135,166 147,175 135,184"/><text class="t" x="135" y="176.5">construct</text></g>
<g id="hs-s"><rect class="s" x="152" y="166" width="30" height="18"/><text class="t" x="167" y="173.5">floor area of<tspan x="167" dy="4.8">healthcare</tspan></text></g>
<g id="hs-dd"><polygon class="f" points="187,175 199,166 211,175 199,184"/><text class="t" x="199" y="176.5">dismantle</text></g>
<g id="hs-ds"><circle class="v" cx="199" cy="198" r="8"/><text class="t" x="199" y="199.5">dis.st.</text></g>
<g id="hs-5"><rect class="m" x="138" y="212" width="39" height="18" rx="9"/><text class="t" x="157.5" y="217.5">ASI of GDP<tspan x="157.5" dy="4.3">growth rate to dis.</tspan><tspan x="157.5" dy="4.3">st. of healthcare</tspan></text></g>
<g id="hs-6"><rect class="m" x="180" y="212" width="38" height="18" rx="9"/><text class="t" x="199" y="217.5">ASI of commercial<tspan x="199" dy="4.3">land price to dis.st</tspan><tspan x="199" dy="4.3">of healthcare</tspan></text></g>
</g>

<g id="lg-1"><rect class="m" x="53" y="523" width="39" height="15" rx="7.5"/><text class="t" x="72.5" y="529.5">ASI of enterprise<tspan x="72.5" dy="4.3">density to guests</tspan></text></g>
<g id="lg-g"><circle class="v" cx="130" cy="530" r="8"/><text class="t" x="130" y="531.5">guests</text></g>
<g id="lg-a"><circle class="v" cx="130" cy="553" r="9"/><text class="t" x="130" y="551">area of<tspan x="130" dy="4">lodging/</tspan><tspan x="130" dy="4">guests</tspan></text></g>
<g id="lg-2"><rect class="m" x="53" y="545" width="39" height="17" rx="8.5"/><text class="t" x="72.5" y="550.5">ASI of floor area<tspan x="72.5" dy="4.3">guests to con.st</tspan><tspan x="72.5" dy="4.3">of lodging</tspan></text></g>
<g id="lg-3"><rect class="m" x="180" y="545" width="38" height="17" rx="8.5"/><text class="t" x="199" y="550.5">ASI of floor area<tspan x="199" dy="4.3">guests to dis.st</tspan><tspan x="199" dy="4.3">of lodging</tspan></text></g>
<g id="lg-4"><rect class="m" x="22" y="568" width="38" height="17" rx="8.5"/><text class="t" x="41" y="573.5">ASI of commercial<tspan x="41" dy="4.3">land price to con.st</tspan><tspan x="41" dy="4.3">of lodging</tspan></text></g>
<g id="lg-cs"><circle class="v" cx="73" cy="576" r="9"/><text class="t" x="73" y="577.5">con.st.</text></g>
<g id="lg-cd"><polygon class="f" points="91,576 103,567 115,576 103,585"/><text class="t" x="103" y="577.5">construct</text></g>
<g id="lg-s"><rect class="s" x="120" y="567" width="32" height="18"/><text class="t6" x="136" y="574.5">floor area<tspan x="136" dy="6">of lodging</tspan></text></g>
<g id="lg-dd"><polygon class="f" points="154,576 166,567 178,576 166,585"/><text class="t" x="166" y="577.5">dismantle</text></g>
<g id="lg-ds"><circle class="v" cx="195" cy="576" r="9"/><text class="t" x="195" y="577.5">dis.st.</text></g>
<g id="lg-5"><rect class="m" x="48" y="591" width="40" height="19" rx="9.5"/><text class="t" x="68" y="597">ASI of commercial<tspan x="68" dy="4.3">land price to</tspan><tspan x="68" dy="4.3">con.st. of lodging</tspan></text></g>
<g id="lg-6"><rect class="m" x="95" y="591" width="39" height="19" rx="9.5"/><text class="t" x="114.5" y="597">ASI of GDP<tspan x="114.5" dy="4.3">growth rate to con.</tspan><tspan x="114.5" dy="4.3">st. of lodging</tspan></text></g>
<g id="lg-7"><rect class="m" x="138" y="591" width="40" height="19" rx="9.5"/><text class="t" x="158" y="597">ASI of GDP<tspan x="158" dy="4.3">growth rate to dis.</tspan><tspan x="158" dy="4.3">st. of lodging</tspan></text></g>
<g id="lg-8"><rect class="m" x="183" y="591" width="37" height="19" rx="9.5"/><text class="t" x="201.5" y="597">ASI of commercial<tspan x="201.5" dy="4.3">land price to</tspan><tspan x="201.5" dy="4.3">dis.st. of lodging</tspan></text></g>

<g id="ed-1"><rect class="m" x="327" y="183" width="39" height="20" rx="10"/><text class="t" x="346.5" y="191.5">ASI of enterprise<tspan x="346.5" dy="4.3">density of ins.</tspan></text></g>
<g id="ed-2"><rect class="m" x="452" y="184" width="38" height="19" rx="9.5"/><text class="t" x="471" y="189.5">ASI of citizen<tspan x="471" dy="4.3">income rate</tspan><tspan x="471" dy="4.3">to ins.</tspan></text></g>
<g id="ed-inf"><circle class="v" cx="407" cy="219" r="9"/><text class="t" x="407" y="217">Student<tspan x="407" dy="4">enrollment</tspan><tspan x="407" dy="4">rate</tspan></text></g>
<g id="ed-3"><rect class="m" x="327" y="210" width="39" height="18" rx="9"/><text class="t" x="346.5" y="217.5">ASI of ins. to<tspan x="346.5" dy="4.3">con.st. of H.E.</tspan></text></g>
<g id="ed-4"><rect class="m" x="452" y="210" width="38" height="18" rx="9"/><text class="t" x="471" y="217.5">ASI of ins. to<tspan x="471" dy="4.3">dis.st. of H.E.</tspan></text></g>
<g id="ed-5"><rect class="m" x="293" y="236" width="38" height="18" rx="9"/><text class="t" x="312" y="241.5">ASI of enterprise<tspan x="312" dy="4.3">density to con.</tspan><tspan x="312" dy="4.3">st. of H.E.</tspan></text></g>
<g id="ed-6"><rect class="m" x="293" y="262" width="38" height="18" rx="9"/><text class="t" x="312" y="267.5">ASI of commercial<tspan x="312" dy="4.3">land price to</tspan><tspan x="312" dy="4.3">con.st. of H.E.</tspan></text></g>
<g id="ed-cs1"><circle class="v" cx="345" cy="245" r="9"/><text class="t" x="345" y="246.5">con.st.</text></g>
<g id="ed-cd1"><polygon class="f" points="364,245 376,236 388,245 376,254"/><text class="t" x="376" y="246.5">construct</text></g>
<g id="ed-s1"><rect class="s" x="392" y="235" width="31" height="19"/><text class="t6" x="407.5" y="243">floor area<tspan x="407.5" dy="6">of H.E.</tspan></text></g>
<g id="ed-dd1"><polygon class="f" points="428,245 440,236 452,245 440,254"/><text class="t" x="440" y="246.5">dismantle</text></g>
<g id="ed-ds1"><circle class="v" cx="469" cy="245" r="9"/><text class="t" x="469" y="246.5">dis.st.</text></g>
<g id="ed-7"><rect class="m" x="452" y="260" width="38" height="18" rx="9"/><text class="t" x="471" y="265.5">ASI of commercial<tspan x="471" dy="4.3">land price to</tspan><tspan x="471" dy="4.3">dis.st. of H.E.</tspan></text></g>
<g id="ed-8"><rect class="m" x="327" y="287" width="39" height="18" rx="9"/><text class="t" x="346.5" y="292.5">ASI of commercial<tspan x="346.5" dy="4.3">land price to</tspan><tspan x="346.5" dy="4.3">con.st. of P&amp;S.E.</tspan></text></g>
<g id="ed-9"><rect class="m" x="452" y="287" width="38" height="18" rx="9"/><text class="t" x="471" y="292.5">ASI of commercial<tspan x="471" dy="4.3">land price to</tspan><tspan x="471" dy="4.3">dis.st. of P&amp;S.E.</tspan></text></g>
<g id="ed-10"><rect class="m" x="293" y="311" width="38" height="18" rx="9"/><text class="t" x="312" y="318.5">ASI of floor area<tspan x="312" dy="4.3">to con.st. of P&amp;S.E.</tspan></text></g>
<g id="ed-cs2"><circle class="v" cx="345" cy="320" r="9"/><text class="t" x="345" y="321.5">con.st.</text></g>
<g id="ed-cd2"><polygon class="f" points="364,320 376,311 388,320 376,329"/><text class="t" x="376" y="321.5">construct</text></g>
<g id="ed-s2"><rect class="s" x="392" y="310" width="31" height="19"/><text class="t6" x="407.5" y="318">floor area<tspan x="407.5" dy="6">of P&amp;S.E.</tspan></text></g>
<g id="ed-dd2"><polygon class="f" points="428,320 440,311 452,320 440,329"/><text class="t" x="440" y="321.5">dismantle</text></g>
<g id="ed-ds2"><circle class="v" cx="469" cy="320" r="9"/><text class="t" x="469" y="321.5">dis.st.</text></g>
<g id="ed-fa"><circle class="v" cx="311" cy="345" r="9"/><text class="t" x="311" y="344">floor area<tspan x="311" dy="4">of P&amp;S.E.</tspan></text></g>
<g id="ed-11"><rect class="m" x="452" y="337" width="38" height="18" rx="9"/><text class="t" x="471" y="344.5">ASI of floor area<tspan x="471" dy="4.3">to dis.st. of P&amp;S.E.</tspan></text></g>

<g id="os-1"><rect class="m" x="328" y="395" width="37" height="19" rx="9.5"/><text class="t" x="346.5" y="401">ASI of enterprise<tspan x="346.5" dy="4.3">density to con.st. of</tspan><tspan x="346.5" dy="4.3">other services</tspan></text></g>
<g id="os-2"><rect class="m" x="296" y="419" width="38" height="18" rx="9"/><text class="t" x="315" y="424.5">ASI of population<tspan x="315" dy="4.3">density to con.st. of</tspan><tspan x="315" dy="4.3">other services</tspan></text></g>
<g id="os-3"><rect class="m" x="296" y="441" width="38" height="18" rx="9"/><text class="t" x="315" y="446.5">ASI of commercial<tspan x="315" dy="4.3">land price to con.st.</tspan><tspan x="315" dy="4.3">of other services</tspan></text></g>
<g id="os-4"><rect class="m" x="296" y="463" width="38" height="18" rx="9"/><text class="t" x="315" y="468.5">ASI of GDP growth<tspan x="315" dy="4.3">rate to con.st. of</tspan><tspan x="315" dy="4.3">other services</tspan></text></g>
<g id="os-cs"><circle class="v" cx="347" cy="428" r="9"/><text class="t" x="347" y="429.5">con.st.</text></g>
<g id="os-cd"><polygon class="f" points="365,428 377,419 389,428 377,437"/><text class="t" x="377" y="429.5">construct</text></g>
<g id="os-s"><rect class="s" x="395" y="419" width="30" height="19"/><text class="t" x="410" y="424.5">floor area of<tspan x="410" dy="4.3">other services</tspan><tspan x="410" dy="4.3">buildings</tspan></text></g>
<g id="os-dd"><polygon class="f" points="430,428 442,419 454,428 442,437"/><text class="t" x="442" y="429.5">dismantle</text></g>
<g id="os-ds"><circle class="v" cx="470" cy="428" r="9"/><text class="t" x="470" y="429.5">dis.st.</text></g>
<g id="os-5"><rect class="m" x="426" y="464" width="34" height="17" rx="8.5"/><text class="t" x="443" y="469.5">ASI of GDP growth<tspan x="443" dy="4.3">rate to dis.st. of</tspan><tspan x="443" dy="4.3">other services</tspan></text></g>
<g id="os-6"><rect class="m" x="459" y="464" width="34" height="17" rx="8.5"/><text class="t" x="476" y="469.5">ASI of commercial<tspan x="476" dy="4.3">land price to dis.st.</tspan><tspan x="476" dy="4.3">of other services</tspan></text></g>
<g id="os-7"><rect class="m" x="328" y="486" width="37" height="19" rx="9.5"/><text class="t" x="346.5" y="492">ASI of commercial<tspan x="346.5" dy="4.3">land price to con.st.</tspan><tspan x="346.5" dy="4.3">of nursery</tspan></text></g>
<g id="os-8"><rect class="m" x="459" y="487" width="34" height="18" rx="9"/><text class="t" x="476" y="492.5">ASI of commercial<tspan x="476" dy="4.3">land price to</tspan><tspan x="476" dy="4.3">dis.st. of nursery</tspan></text></g>
<g id="os-9"><rect class="m" x="296" y="506" width="38" height="18" rx="9"/><text class="t" x="315" y="511.5">ASI of nursery<tspan x="315" dy="4.3">employee rate to</tspan><tspan x="315" dy="4.3">con.st. of nursery</tspan></text></g>
<g id="os-cs2"><circle class="v" cx="347" cy="515" r="9"/><text class="t" x="347" y="516.5">con.st.</text></g>
<g id="os-cd2"><polygon class="f" points="365,515 377,506 389,515 377,524"/><text class="t" x="377" y="516.5">construct</text></g>
<g id="os-s2"><rect class="s" x="395" y="506" width="30" height="19"/><text class="t" x="410" y="511.5">floor area<tspan x="410" dy="4.3">of nursery</tspan><tspan x="410" dy="4.3">school</tspan></text></g>
<g id="os-dd2"><polygon class="f" points="430,515 442,506 454,515 442,524"/><text class="t" x="442" y="516.5">dismantle</text></g>
<g id="os-ds2"><circle class="v" cx="470" cy="515" r="9"/><text class="t" x="470" y="516.5">dis.st.</text></g>
<g id="os-10"><rect class="m" x="328" y="528" width="37" height="19" rx="9.5"/><text class="t" x="346.5" y="534">ASI of floor area of<tspan x="346.5" dy="4.3">nursery 0-4 year olds</tspan><tspan x="346.5" dy="4.3">to con.st. of nursery</tspan></text></g>
<g id="os-fnu"><circle class="v" cx="347" cy="556" r="9"/><text class="t" x="347" y="557.5">fnu. 0-4</text></g>
<g id="os-11"><rect class="m" x="426" y="550" width="34" height="18" rx="9"/><text class="t" x="443" y="555.5">ASI of fnu. 0-4<tspan x="443" dy="4.3">to dis.st. of</tspan><tspan x="443" dy="4.3">nursery</tspan></text></g>
<g id="os-12"><rect class="m" x="459" y="550" width="34" height="18" rx="9"/><text class="t" x="476" y="555.5">ASI of other nursery<tspan x="476" dy="4.3">employee rate to</tspan><tspan x="476" dy="4.3">dis.st. of nursery</tspan></text></g>

<g id="da-1"><rect class="m" x="572" y="185" width="37" height="18" rx="9"/><text class="t" x="590.5" y="190.5">Gross citizen's<tspan x="590.5" dy="4.3">product</tspan><tspan x="590.5" dy="4.3">growth rate</tspan></text></g>
<g id="da-2"><rect class="m" x="617" y="185" width="38" height="18" rx="9"/><text class="t" x="636" y="190.5">Apartment house<tspan x="636" dy="4.3">household</tspan><tspan x="636" dy="4.3">rate</tspan></text></g>
<g id="da-ac"><circle class="v" cx="679" cy="194" r="9"/><text class="t" x="679" y="192">Apartment<tspan x="679" dy="4">house</tspan><tspan x="679" dy="4">rate</tspan></text></g>
<g id="da-3"><rect class="m" x="706" y="185" width="37" height="18" rx="9"/><text class="t" x="724.5" y="190.5">Apartment house<tspan x="724.5" dy="4.3">household</tspan><tspan x="724.5" dy="4.3">rate</tspan></text></g>
<g id="da-4"><rect class="m" x="751" y="185" width="37" height="18" rx="9"/><text class="t" x="769.5" y="190.5">Gross citizen's<tspan x="769.5" dy="4.3">product</tspan><tspan x="769.5" dy="4.3">growth rate</tspan></text></g>
<g id="da-dr1"><circle class="v" cx="590" cy="234" r="9"/><text class="t" x="590" y="233">Demolition<tspan x="590" dy="4">rate</tspan></text></g>
<g id="da-df1"><polygon class="f" points="624,234 636,225 648,234 636,243"/><text class="t" x="636" y="235.5">Demolition</text></g>
<g id="da-ap"><rect class="s" x="665" y="225" width="30" height="18"/><text class="t6" x="680" y="232.5">Apartment<tspan x="680" dy="6">house</tspan></text></g>
<g id="da-cf1"><polygon class="f" points="713,234 725,225 737,234 725,243"/><text class="t" x="725" y="235.5">Construction</text></g>
<g id="da-cr1"><circle class="v" cx="770" cy="234" r="9"/><text class="t" x="770" y="233">Construction<tspan x="770" dy="4">rate</tspan></text></g>
<g id="da-5"><rect class="m" x="572" y="263" width="38" height="18" rx="9"/><text class="t" x="591" y="270.5">Residential<tspan x="591" dy="4.3">buildings' density</tspan></text></g>
<g id="da-6"><rect class="m" x="706" y="263" width="37" height="18" rx="9"/><text class="t" x="724.5" y="270.5">Residential<tspan x="724.5" dy="4.3">land rate</tspan></text></g>
<g id="da-7"><rect class="m" x="751" y="263" width="37" height="18" rx="9"/><text class="t" x="769.5" y="270.5">Residential<tspan x="769.5" dy="4.3">land rate</tspan></text></g>
<g id="da-8"><rect class="m" x="706" y="303" width="37" height="18" rx="9"/><text class="t" x="724.5" y="310.5">Residential<tspan x="724.5" dy="4.3">land rate</tspan></text></g>
<g id="da-9"><rect class="m" x="751" y="303" width="37" height="18" rx="9"/><text class="t" x="769.5" y="310.5">Residential<tspan x="769.5" dy="4.3">land rate</tspan></text></g>
<g id="da-dr2"><circle class="v" cx="590" cy="350" r="9"/><text class="t" x="590" y="349">Demolition<tspan x="590" dy="4">rate</tspan></text></g>
<g id="da-df2"><polygon class="f" points="624,350 636,341 648,350 636,359"/><text class="t" x="636" y="351.5">Demolition</text></g>
<g id="da-dh"><rect class="s" x="665" y="341" width="30" height="18"/><text class="t6" x="680" y="348.5">Detached<tspan x="680" dy="6">house</tspan></text></g>
<g id="da-cf2"><polygon class="f" points="713,350 725,341 737,350 725,359"/><text class="t" x="725" y="351.5">Construction</text></g>
<g id="da-cr2"><circle class="v" cx="770" cy="350" r="9"/><text class="t" x="770" y="349">Construction<tspan x="770" dy="4">rate</tspan></text></g>
<g id="da-10"><rect class="m" x="572" y="379" width="37" height="18" rx="9"/><text class="t6" x="590.5" y="386.5">Citizen's<tspan x="590.5" dy="6">income</tspan></text></g>
<g id="da-11"><rect class="m" x="617" y="379" width="38" height="18" rx="9"/><text class="t" x="636" y="384.5">Detached house<tspan x="636" dy="4.3">household</tspan><tspan x="636" dy="4.3">rate</tspan></text></g>
<g id="da-dc"><circle class="v" cx="679" cy="388" r="9"/><text class="t" x="679" y="386">Detached<tspan x="679" dy="4">house</tspan><tspan x="679" dy="4">rate</tspan></text></g>
<g id="da-12"><rect class="m" x="706" y="379" width="37" height="18" rx="9"/><text class="t" x="724.5" y="384.5">Detached house<tspan x="724.5" dy="4.3">household</tspan><tspan x="724.5" dy="4.3">rate</tspan></text></g>
<g id="da-13"><rect class="m" x="751" y="379" width="37" height="18" rx="9"/><text class="t6" x="769.5" y="386.5">Citizen's<tspan x="769.5" dy="6">income</tspan></text></g>

<g id="ec-1"><rect class="m" x="864" y="185" width="38" height="17" rx="8.5"/><text class="t" x="883" y="190.5">Gross<tspan x="883" dy="4.3">citizen's product</tspan><tspan x="883" dy="4.3">growth rate</tspan></text></g>
<g id="ec-gr"><circle class="v" cx="968" cy="193" r="9"/><text class="t" x="968" y="191">Gross<tspan x="968" dy="4">citizen's</tspan><tspan x="968" dy="4">product</tspan></text></g>
<g id="ec-tx"><circle class="v" cx="883" cy="223" r="9"/><text class="t" x="883" y="222">Taxation<tspan x="883" dy="4">rate</tspan></text></g>
<g id="ec-ci"><circle class="d" cx="922" cy="223" r="9"/><text class="t" x="922" y="222">Citizen's<tspan x="922" dy="4">income</tspan></text></g>
<g id="ec-gcp"><circle class="d" cx="968" cy="223" r="9"/><text class="t" x="968" y="221">Gross<tspan x="968" dy="4">citizen's</tspan><tspan x="968" dy="4">product</tspan></text></g>
<g id="ec-2"><rect class="m" x="991" y="185" width="38" height="17" rx="8.5"/><text class="t6" x="1010" y="195.5">Worker</text></g>
<g id="ec-3"><rect class="m" x="991" y="208" width="38" height="18" rx="9"/><text class="t" x="1010" y="213.5">Commercial<tspan x="1010" dy="4.3">buildings</tspan><tspan x="1010" dy="4.3">floor area</tspan></text></g>
<g id="ec-4"><rect class="m" x="991" y="232" width="38" height="18" rx="9"/><text class="t" x="1010" y="237.5">Commercial<tspan x="1010" dy="4.3">buildings</tspan><tspan x="1010" dy="4.3">floor area</tspan></text></g>
<g id="ec-5"><rect class="m" x="991" y="254" width="38" height="17" rx="8.5"/><text class="t" x="1010" y="261">Commercial<tspan x="1010" dy="4.3">land price</tspan></text></g>

<g id="cg-v1"><circle class="v" cx="875" cy="320" r="9"/><text class="t" x="875" y="318">ton-km<tspan x="875" dy="4">of cargo</tspan><tspan x="875" dy="4">by truck</tspan></text></g>
<g id="cg-d1"><circle class="d" cx="908" cy="320" r="9"/><text class="t" x="908" y="318">cargo<tspan x="908" dy="4">by truck</tspan><tspan x="908" dy="4">t-km</tspan></text></g>
<g id="cg-w1"><circle class="v" cx="942" cy="320" r="9"/><text class="t" x="942" y="318">weight<tspan x="942" dy="4">of cargo</tspan><tspan x="942" dy="4">by truck</tspan></text></g>
<g id="cg-v2"><circle class="v" cx="875" cy="353" r="9"/><text class="t" x="875" y="351">ton-km<tspan x="875" dy="4">of cargo by</tspan><tspan x="875" dy="4">shipping</tspan></text></g>
<g id="cg-d2"><circle class="d" cx="908" cy="353" r="9"/><text class="t" x="908" y="351">cargo by<tspan x="908" dy="4">shipping</tspan><tspan x="908" dy="4">t-km</tspan></text></g>
<g id="cg-w2"><circle class="v" cx="942" cy="353" r="9"/><text class="t" x="942" y="351">weight of<tspan x="942" dy="4">cargo by</tspan><tspan x="942" dy="4">shipping</tspan></text></g>
<g id="cg-v3"><circle class="v" cx="875" cy="388" r="9"/><text class="t" x="875" y="386">ton-km<tspan x="875" dy="4">of cargo</tspan><tspan x="875" dy="4">by rail</tspan></text></g>
<g id="cg-d3"><circle class="d" cx="908" cy="388" r="9"/><text class="t" x="908" y="386">cargo<tspan x="908" dy="4">by rail</tspan><tspan x="908" dy="4">t-km</tspan></text></g>
<g id="cg-w3"><circle class="v" cx="942" cy="388" r="9"/><text class="t" x="942" y="386">weight<tspan x="942" dy="4">of cargo</tspan><tspan x="942" dy="4">by rail</tspan></text></g>
<g id="cg-tw"><circle class="v" cx="977" cy="353" r="9"/><text class="t" x="977" y="352">total<tspan x="977" dy="4">weight</tspan></text></g>
<g id="cg-1"><rect class="m" x="992" y="324" width="38" height="19" rx="9.5"/><text class="t" x="1011" y="330">ASI of tertiary<tspan x="1011" dy="4.3">industry employees</tspan><tspan x="1011" dy="4.3">rate to total weight</tspan></text></g>
<g id="cg-2"><rect class="m" x="992" y="362" width="38" height="18" rx="9"/><text class="t" x="1011" y="369.5">ASI of GDP growth<tspan x="1011" dy="4.3">rate to total weight</tspan></text></g>

<g id="ps-v1"><circle class="v" cx="883" cy="458" r="9"/><text class="t" x="883" y="455">Travel<tspan x="883" dy="4">distance</tspan><tspan x="883" dy="4">per trip</tspan><tspan x="883" dy="4">by car</tspan></text></g>
<g id="ps-d1"><circle class="d" cx="917" cy="458" r="10"/><text class="t" x="917" y="457">Passenger km<tspan x="917" dy="4">by car</tspan></text></g>
<g id="ps-t1"><circle class="v" cx="947" cy="458" r="9"/><text class="t" x="947" y="457">Trip<tspan x="947" dy="4">by car</tspan></text></g>
<g id="ps-v2"><circle class="v" cx="883" cy="480" r="9"/><text class="t" x="883" y="477">Travel<tspan x="883" dy="4">distance</tspan><tspan x="883" dy="4">per trip by</tspan><tspan x="883" dy="4">motor bike</tspan></text></g>
<g id="ps-d2"><circle class="d" cx="917" cy="480" r="10"/><text class="t" x="917" y="477">Passenger km<tspan x="917" dy="4">by motor</tspan><tspan x="917" dy="4">bike</tspan></text></g>
<g id="ps-t2"><circle class="v" cx="947" cy="480" r="9"/><text class="t" x="947" y="477">Trip<tspan x="947" dy="4">by motor</tspan><tspan x="947" dy="4">bike</tspan></text></g>
<g id="ps-v3"><circle class="v" cx="883" cy="502" r="9"/><text class="t" x="883" y="499">Travel<tspan x="883" dy="4">distance</tspan><tspan x="883" dy="4">per trip</tspan><tspan x="883" dy="4">by bus</tspan></text></g>
<g id="ps-d3"><circle class="d" cx="917" cy="502" r="10"/><text class="t" x="917" y="501">Passenger km<tspan x="917" dy="4">by bus</tspan></text></g>
<g id="ps-t3"><circle class="v" cx="947" cy="502" r="9"/><text class="t" x="947" y="501">Trip<tspan x="947" dy="4">by bus</tspan></text></g>
<g id="ps-v4"><circle class="v" cx="883" cy="523" r="9"/><text class="t" x="883" y="520">Travel<tspan x="883" dy="4">distance</tspan><tspan x="883" dy="4">per trip by</tspan><tspan x="883" dy="4">trains</tspan></text></g>
<g id="ps-d4"><circle class="d" cx="917" cy="523" r="10"/><text class="t" x="917" y="522">Passenger km<tspan x="917" dy="4">by trains</tspan></text></g>
<g id="ps-t4"><circle class="v" cx="947" cy="523" r="9"/><text class="t" x="947" y="522">Trip<tspan x="947" dy="4">by trains</tspan></text></g>
<g id="ps-tt"><circle class="v" cx="978" cy="492" r="9"/><text class="t6" x="978" y="490">Total<tspan x="978" dy="6">trip</tspan></text></g>
<g id="ps-tp"><circle class="v" cx="1010" cy="492" r="9"/><text class="t" x="1010" y="490">Trip<tspan x="1010" dy="4">per</tspan><tspan x="1010" dy="4">person</tspan></text></g>
<g id="ps-u0"><circle class="v" cx="978" cy="513" r="8"/><text class="t" x="978" y="511">Utilization<tspan x="978" dy="4">rate of</tspan><tspan x="978" dy="4">each mode</tspan></text></g>
<g id="ps-u1"><circle class="v" cx="1005" cy="513" r="9"/><text class="t" x="1005" y="512">Utilization<tspan x="1005" dy="4">rate of car</tspan></text></g>
<g id="ps-u2"><circle class="v" cx="978" cy="535" r="9"/><text class="t" x="978" y="533">Utilization<tspan x="978" dy="4">rate of</tspan><tspan x="978" dy="4">motor bike</tspan></text></g>
<g id="ps-u3"><circle class="v" cx="1005" cy="535" r="9"/><text class="t" x="1005" y="534">Utilization<tspan x="1005" dy="4">rate of bus</tspan></text></g>
<g id="ps-u4"><circle class="v" cx="1005" cy="557" r="9"/><text class="t" x="1005" y="556">Utilization<tspan x="1005" dy="4">rate of trains</tspan></text></g>
<g id="ps-1"><rect class="m" x="1025" y="446" width="37" height="18" rx="9"/><text class="t" x="1043.5" y="453.5">Gross citizen's<tspan x="1043.5" dy="4.5">product</tspan></text></g>
<g id="ps-2"><rect class="m" x="1025" y="483" width="37" height="18" rx="9"/><text class="t" x="1043.5" y="491">Old population<tspan x="1043.5" dy="4.5">rate</tspan></text></g>
<g id="ps-3"><rect class="m" x="1025" y="504" width="37" height="18" rx="9"/><text class="t" x="1043.5" y="514.5">Car possession</text></g>
<g id="ps-4"><rect class="m" x="1025" y="526" width="37" height="18" rx="9"/><text class="t" x="1043.5" y="536.5">Car possession</text></g>
<g id="ps-5"><rect class="m" x="1025" y="548" width="37" height="19" rx="9.5"/><text class="t6" x="1043.5" y="556">Population<tspan x="1043.5" dy="6">density</tspan></text></g>
<g id="ps-6"><rect class="m" x="866" y="548" width="37" height="19" rx="9.5"/><text class="t6" x="884.5" y="556">Population<tspan x="884.5" dy="6">density</tspan></text></g>

<g id="hh-1"><rect class="m" x="570" y="457" width="38" height="18" rx="9"/><text class="t" x="589" y="464.5">University<tspan x="589" dy="4.3">entrance rate</tspan></text></g>
<g id="hh-2"><rect class="m" x="570" y="480" width="38" height="18" rx="9"/><text class="t" x="589" y="487.5">Tertiary<tspan x="589" dy="4.3">worker's rate</tspan></text></g>
<g id="hh-3"><rect class="m" x="570" y="503" width="38" height="18" rx="9"/><text class="t" x="589" y="513.5">Citizen</text></g>
<g id="hh-4"><rect class="m" x="570" y="526" width="38" height="18" rx="9"/><text class="t" x="589" y="533.5">Hospital<tspan x="589" dy="4.3">floor area</tspan></text></g>
<g id="hh-rate"><circle class="v" cx="629" cy="500" r="9"/><text class="t" x="629" y="498">Rate of<tspan x="629" dy="4">household</tspan><tspan x="629" dy="4">rate</tspan></text></g>
<g id="hh-h"><circle class="d" cx="651" cy="500" r="9"/><text class="t" x="651" y="501.5">Household</text></g>

<g id="lu-rl"><circle class="d" cx="699" cy="469" r="10"/><text class="t" x="699" y="468">Residential<tspan x="699" dy="4">land area</tspan></text></g>
<g id="lu-ro"><circle class="v" cx="720" cy="469" r="9"/><text class="t" x="720" y="467">Occupancy<tspan x="720" dy="4">residential</tspan><tspan x="720" dy="4">area</tspan></text></g>
<g id="lu-cl"><circle class="d" cx="699" cy="536" r="10"/><text class="t" x="699" y="535">Commercial<tspan x="699" dy="4">land area</tspan></text></g>
<g id="lu-co"><circle class="v" cx="720" cy="536" r="9"/><text class="t" x="720" y="534">Occupancy<tspan x="720" dy="4">Commercial</tspan><tspan x="720" dy="4">area</tspan></text></g>
<g id="lu-1"><rect class="m" x="750" y="438" width="40" height="17" rx="8.5"/><text class="t" x="770" y="443.5">ASI of population<tspan x="770" dy="4.3">to residential</tspan><tspan x="770" dy="4.3">land area</tspan></text></g>
<g id="lu-2"><rect class="m" x="750" y="460" width="40" height="18" rx="9"/><text class="t" x="770" y="465.5">ASI of occupancy<tspan x="770" dy="4.3">to area of</tspan><tspan x="770" dy="4.3">residential land</tspan></text></g>
<g id="lu-3"><rect class="m" x="750" y="482" width="40" height="18" rx="9"/><text class="t" x="770" y="487.5">ASI of price growth<tspan x="770" dy="4.3">rate to area of</tspan><tspan x="770" dy="4.3">residential land</tspan></text></g>
<g id="lu-4"><rect class="m" x="750" y="505" width="40" height="18" rx="9"/><text class="t" x="770" y="510.5">ASI of employees<tspan x="770" dy="4.3">to area of</tspan><tspan x="770" dy="4.3">commercial land</tspan></text></g>
<g id="lu-5"><rect class="m" x="750" y="527" width="40" height="18" rx="9"/><text class="t" x="770" y="532.5">ASI of occupancy<tspan x="770" dy="4.3">to area of</tspan><tspan x="770" dy="4.3">commercial land</tspan></text></g>
<g id="lu-6"><rect class="m" x="750" y="549" width="40" height="18" rx="9"/><text class="t" x="770" y="554.5">ASI of price growth<tspan x="770" dy="4.3">rate to area of</tspan><tspan x="770" dy="4.3">commercial land</tspan></text></g>

<g id="legend">
<circle class="v" cx="324" cy="634" r="14" stroke-width="1"/><text class="lg" x="341" y="639">: Variable</text>
<circle class="d" cx="458" cy="634" r="14"/><text class="lg" x="478" y="639">: Dependent variable</text>
<rect class="s" x="620" y="622" width="32" height="24"/><text class="lg" x="663" y="639">: Stock variable</text>
<polygon class="f" points="790,634 809,621 828,634 809,647" stroke-width="1"/><text class="lg" x="834" y="639">: Flow variable</text>
<rect class="m" x="958" y="622" width="44" height="24" rx="12"/><text class="lg" x="1012" y="639">: Multiplier</text>
</g>
</svg>
